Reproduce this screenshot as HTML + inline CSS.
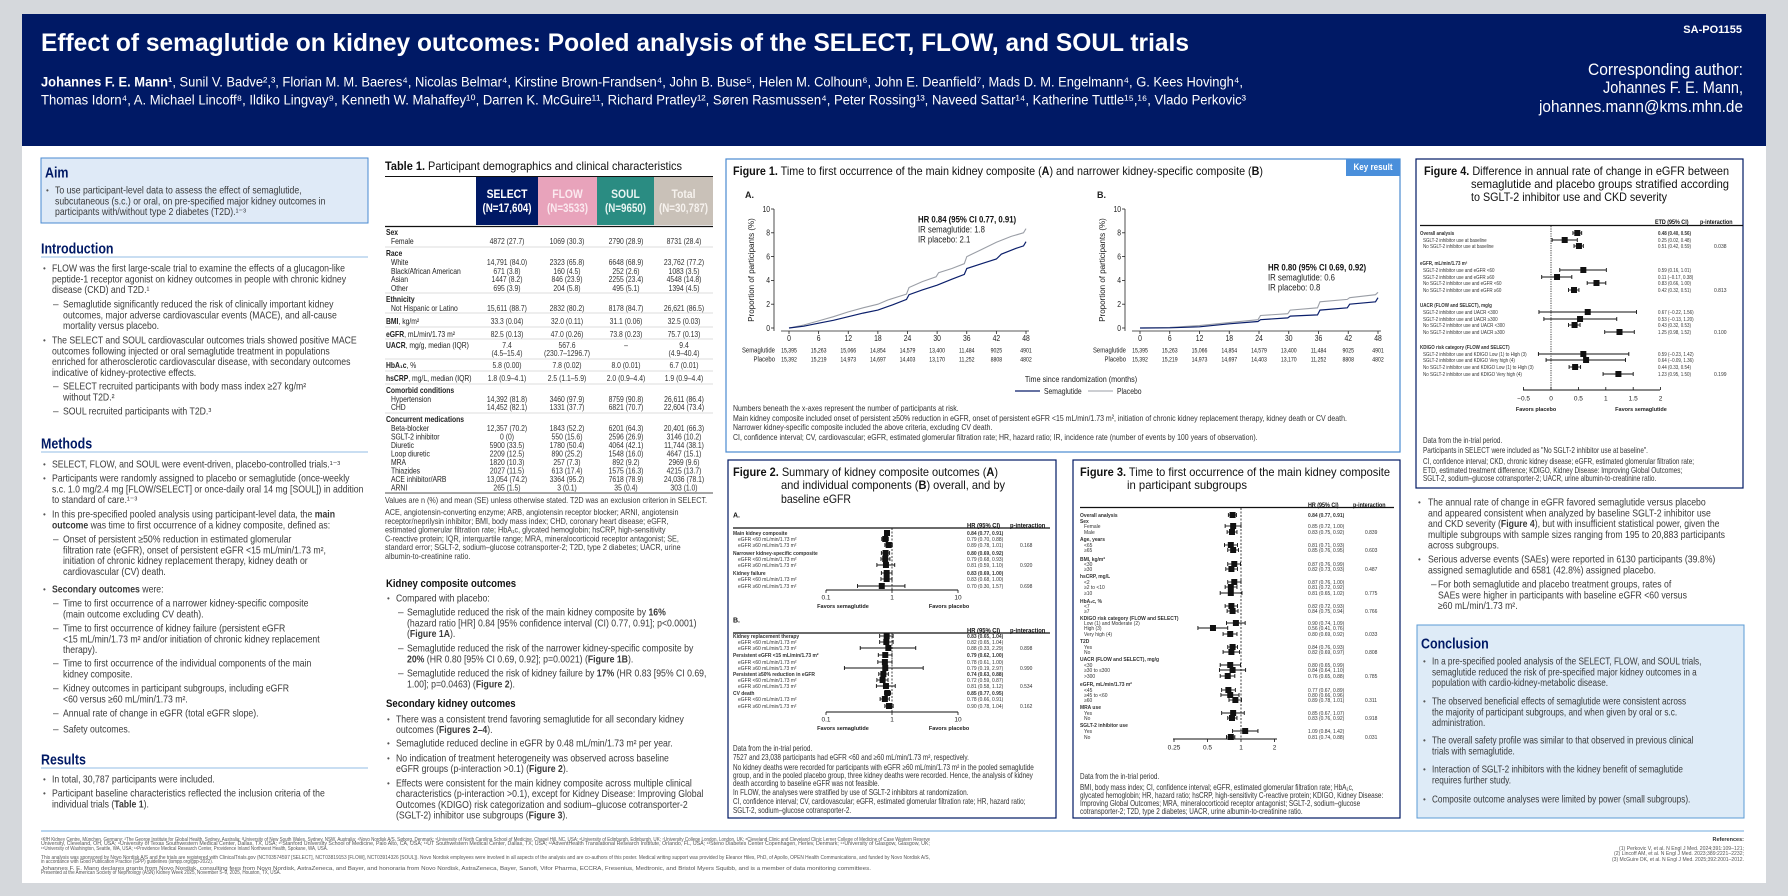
<!DOCTYPE html>
<html><head><meta charset="utf-8">
<style>
html,body{margin:0;padding:0;background:#d5d8dc;width:1788px;height:896px;overflow:hidden}
svg{display:block;font-family:"Liberation Sans",sans-serif}
</style></head>
<body><div id="c"></div>
<script>
const S=[];
function esc(s){return s.replace(/&/g,'&amp;').replace(/</g,'&lt;').replace(/>/g,'&gt;');}
function md(s){return esc(s).replace(/\*\*(.+?)\*\*/g,'<tspan font-weight="bold">$1</tspan>');}
function T(x,y,s,o){o=o||{};const sz=o.size||10,sx=o.sx||1;const by=(y+sz*0.35).toFixed(1);
 let extra=o.w?` textLength="${o.w}" lengthAdjust="spacingAndGlyphs"`:'';
 let tr=o.w?`x="${x}" y="${by}"`:`transform="translate(${x},${by}) scale(${sx},1)"`;
 S.push(`<text ${tr}${extra} font-size="${sz}"${o.b?' font-weight="bold"':''} fill="${o.fill||'#333'}" text-anchor="${o.a||'start'}">${md(s)}</text>`);}
function R(x,y,w,h,f,st,sw){S.push(`<rect x="${x}" y="${y}" width="${w}" height="${h}" fill="${f||'none'}"${st?` stroke="${st}" stroke-width="${sw||1}"`:''}/>`);}
function L(x1,y1,x2,y2,st,sw,da){S.push(`<line x1="${x1}" y1="${y1}" x2="${x2}" y2="${y2}" stroke="${st||'#000'}" stroke-width="${sw||1}"${da?` stroke-dasharray="${da}"`:''}/>`);}
const NAVY='#001965';
R(22,146,1744,737,'#fff');
R(22,14,1744,132,NAVY);
T(41,42,'Effect of semaglutide on kidney outcomes: Pooled analysis of the SELECT, FLOW, and SOUL trials',{size:25,b:1,fill:'#fff',w:1148});
T(41,82,'**Johannes F. E. Mann¹**, Sunil V. Badve²,³, Florian M. M. Baeres⁴, Nicolas Belmar⁴, Kirstine Brown-Frandsen⁴, John B. Buse⁵, Helen M. Colhoun⁶, John E. Deanfield⁷, Mads D. M. Engelmann⁴, G. Kees Hovingh⁴,',{size:13.5,fill:'#fff',w:1202});
T(41,100,'Thomas Idorn⁴, A. Michael Lincoff⁸, Ildiko Lingvay⁹, Kenneth W. Mahaffey¹⁰, Darren K. McGuire¹¹, Richard Pratley¹², Søren Rasmussen⁴, Peter Rossing¹³, Naveed Sattar¹⁴, Katherine Tuttle¹⁵,¹⁶, Vlado Perkovic³',{size:13.5,fill:'#fff',w:1205});
T(1742,29,'SA-PO1155',{size:11,b:1,fill:'#fff',a:'end'});
T(1743,69,'Corresponding author:',{size:17,fill:'#fff',a:'end',w:155});
T(1743,87,'Johannes F. E. Mann,',{size:17,fill:'#fff',a:'end',w:140});
T(1743,106,'johannes.mann@kms.mhn.de',{size:17,fill:'#fff',a:'end',w:204});

let BT={size:10,sx:.87,fill:'#3a3a3a'};
function list(items,bx,tx,dx,stx,lh){lh=lh||10.8;
 items.forEach(([t,y,lines])=>{
  if(t==='b')T(bx,y,'•',{size:8,fill:'#555'});else T(dx,y,'–',{size:10,fill:'#444'});
  lines.forEach((l,i)=>T(t==='b'?tx:stx,y+i*lh,l,BT));});}
function head(x,y,s,rule){T(x,y,s,{size:15,b:1,fill:NAVY,sx:.83});if(rule)L(41,y+9,368,y+9,'#a9c9ea',1.2);}

R(41,158,327,65,'#dfeaf7','#4a8ad0',1);
T(45,172,'Aim',{size:15,b:1,fill:NAVY,sx:.83});
list([['b',190,['To use participant-level data to assess the effect of semaglutide,','subcutaneous (s.c.) or oral, on pre-specified major kidney outcomes in','participants with/without type 2 diabetes (T2D).¹⁻³']]],46,55,0,0);
head(41,248,'Introduction',1);
list([
['b',268,['FLOW was the first large-scale trial to examine the effects of a glucagon-like','peptide-1 receptor agonist on kidney outcomes in people with chronic kidney','disease (CKD) and T2D.¹']],
['s',304,['Semaglutide significantly reduced the risk of clinically important kidney','outcomes, major adverse cardiovascular events (MACE), and all-cause','mortality versus placebo.']],
['b',340,['The SELECT and SOUL cardiovascular outcomes trials showed positive MACE','outcomes following injected or oral semaglutide treatment in populations','enriched for atherosclerotic cardiovascular disease, with secondary outcomes','indicative of kidney-protective effects.']],
['s',386,['SELECT recruited participants with body mass index ≥27 kg/m²','without T2D.²']],
['s',411,['SOUL recruited participants with T2D.³']]
],43,52,53,63);
head(41,443,'Methods',1);
list([
['b',464,['SELECT, FLOW, and SOUL were event-driven, placebo-controlled trials.¹⁻³']],
['b',478,['Participants were randomly assigned to placebo or semaglutide (once-weekly','s.c. 1.0 mg/2.4 mg [FLOW/SELECT] or once-daily oral 14 mg [SOUL]) in addition','to standard of care.¹⁻³']],
['b',514,['In this pre-specified pooled analysis using participant-level data, the **main**','**outcome** was time to first occurrence of a kidney composite, defined as:']],
['s',539,['Onset of persistent ≥50% reduction in estimated glomerular','filtration rate (eGFR), onset of persistent eGFR <15 mL/min/1.73 m²,','initiation of chronic kidney replacement therapy, kidney death or','cardiovascular (CV) death.']],
['b',589,['**Secondary outcomes** were:']],
['s',603,['Time to first occurrence of a narrower kidney-specific composite','(main outcome excluding CV death).']],
['s',628,['Time to first occurrence of kidney failure (persistent eGFR','<15 mL/min/1.73 m² and/or initiation of chronic kidney replacement','therapy).']],
['s',663,['Time to first occurrence of the individual components of the main','kidney composite.']],
['s',688,['Kidney outcomes in participant subgroups, including eGFR','<60 versus ≥60 mL/min/1.73 m².']],
['s',713,['Annual rate of change in eGFR (total eGFR slope).']],
['s',729,['Safety outcomes.']]
],43,52,53,63);
head(41,759,'Results',1);
list([
['b',779,['In total, 30,787 participants were included.']],
['b',793,['Participant baseline characteristics reflected the inclusion criteria of the','individual trials (**Table 1**).']]
],43,52,53,63);

L(41,831,1744,831,'#b7d4ee',2);
const FT={size:5,fill:'#555'};
T(41,839,'¹KfH Kidney Centre, München, Germany; ²The George Institute for Global Health, Sydney, Australia; ³University of New South Wales, Sydney, NSW, Australia; ⁴Novo Nordisk A/S, Søborg, Denmark; ⁵University of North Carolina School of Medicine, Chapel Hill, NC, USA; ⁶University of Edinburgh, Edinburgh, UK; ⁷University College London, London, UK; ⁸Cleveland Clinic and Cleveland Clinic Lerner College of Medicine of Case Western Reserve',Object.assign({w:889},FT));
T(41,843,'University, Cleveland, OH, USA; ⁹University of Texas Southwestern Medical Center, Dallas, TX, USA; ¹⁰Stanford University School of Medicine, Palo Alto, CA, USA; ¹¹UT Southwestern Medical Center, Dallas, TX, USA; ¹²AdventHealth Translational Research Institute, Orlando, FL, USA; ¹³Steno Diabetes Center Copenhagen, Herlev, Denmark; ¹⁴University of Glasgow, Glasgow, UK;',Object.assign({w:889},FT));
T(41,848,'¹⁵University of Washington, Seattle, WA, USA; ¹⁶Providence Medical Research Center, Providence Inland Northwest Health, Spokane, WA, USA.',Object.assign({w:287},FT));
T(41,857,'This analysis was sponsored by Novo Nordisk A/S and the trials are registered with ClinicalTrials.gov (NCT03574597 [SELECT], NCT03819153 [FLOW], NCT03914326 [SOUL]). Novo Nordisk employees were involved in all aspects of the analysis and are co-authors of this poster. Medical writing support was provided by Eleanor Hiles, PhD, of Apollo, OPEN Health Communications, and funded by Novo Nordisk A/S,',Object.assign({w:889},FT));
T(41,861,'in accordance with Good Publication Practice (GPP) guidelines (ismpp.org/gpp-2022).',Object.assign({w:172},FT));
T(41,868,'Johannes F. E. Mann declares grants from Novo Nordisk, consulting fees from Novo Nordisk, AstraZeneca, and Bayer, and honoraria from Novo Nordisk, AstraZeneca, Bayer, Sanofi, Vifor Pharma, ECCRA, Fresenius, Medtronic, and Bristol Myers Squibb, and is a member of data monitoring committees.',Object.assign({w:830},FT));
T(41,872,'Presented at the American Society of Nephrology (ASN) Kidney Week 2025, November 5–9, 2025, Houston, TX, USA.',Object.assign({w:240},FT));
T(1744,839,'References:',{size:5.5,b:1,fill:'#333',a:'end'});
T(1744,848,'(1) Perkovic V, et al. N Engl J Med. 2024;391:109–121;',Object.assign({w:125,a:'end'},FT));
T(1744,853,'(2) Lincoff AM, et al. N Engl J Med. 2023;389:2221–2232;',Object.assign({w:130,a:'end'},FT));
T(1744,859,'(3) McGuire DK, et al. N Engl J Med. 2025;392:2001–2012.',Object.assign({w:132,a:'end'},FT));

T(385,166,'**Table 1.** Participant demographics and clinical characteristics',{size:12,fill:'#111',w:297});
L(385,176.5,713,176.5,'#111',1);
[[476,NAVY,'SELECT','(N=17,604)','#fff'],[538,'#e8a3bb','FLOW','(N=3533)','#fbe9ef'],[597,'#2a8c82','SOUL','(N=9650)','#e8f4f2'],[654,'#c9c1b8','Total','(N=30,787)','#f6f2ee']].forEach(([x,c,a,b,tc],i)=>{
 const w=[62,59,57,59][i];R(x,177,w,48,c);
 T(x+w/2,194,a,{size:11.5,b:1,fill:tc,a:'middle',sx:.9});T(x+w/2,208,b,{size:11.5,b:1,fill:tc,a:'middle',sx:.85});});
L(385,226.5,713,226.5,'#111',1.2);
const TX=[507,567,626,684];const TS={size:8,fill:'#333',sx:.85};
function trow(y,label,vals,bold,indent){T(indent?391:386,y,label,{size:8,fill:'#222',b:bold,sx:.85});
 if(vals)vals.forEach((v,i)=>T(TX[i],y,v,Object.assign({a:'middle'},TS)));}
function tsep(y){L(385,y,713,y,'#bbb',.6);}
trow(232,'Sex',null,1);trow(241,'Female',['4872 (27.7)','1069 (30.3)','2790 (28.9)','8731 (28.4)'],0,1);tsep(247);
trow(253,'Race',null,1);
trow(262,'White',['14,791 (84.0)','2323 (65.8)','6648 (68.9)','23,762 (77.2)'],0,1);
trow(271,'Black/African American',['671 (3.8)','160 (4.5)','252 (2.6)','1083 (3.5)'],0,1);
trow(279,'Asian',['1447 (8.2)','846 (23.9)','2255 (23.4)','4548 (14.8)'],0,1);
trow(288,'Other',['695 (3.9)','204 (5.8)','495 (5.1)','1394 (4.5)'],0,1);tsep(293);
trow(299,'Ethnicity',null,1);trow(308,'Not Hispanic or Latino',['15,611 (88.7)','2832 (80.2)','8178 (84.7)','26,621 (86.5)'],0,1);tsep(313);
trow(321,'**BMI**, kg/m²',['33.3 (0.04)','32.0 (0.11)','31.1 (0.06)','32.5 (0.03)']);tsep(327);
trow(334,'**eGFR**, mL/min/1.73 m²',['82.5 (0.13)','47.0 (0.26)','73.8 (0.23)','75.7 (0.13)']);tsep(339);
trow(345,'**UACR**, mg/g, median (IQR)',['7.4','567.6','–','9.4']);trow(353,'',['(4.5–15.4)','(230.7–1296.7)','','(4.9–40.4)']);tsep(359);
trow(365,'**HbA₁c**, %',['5.8 (0.00)','7.8 (0.02)','8.0 (0.01)','6.7 (0.01)']);tsep(371);
trow(378,'**hsCRP**, mg/L, median (IQR)',['1.8 (0.9–4.1)','2.5 (1.1–5.9)','2.0 (0.9–4.4)','1.9 (0.9–4.4)']);tsep(384);
trow(390,'Comorbid conditions',null,1);
trow(399,'Hypertension',['14,392 (81.8)','3460 (97.9)','8759 (90.8)','26,611 (86.4)'],0,1);
trow(407,'CHD',['14,452 (82.1)','1331 (37.7)','6821 (70.7)','22,604 (73.4)'],0,1);tsep(413);
trow(419,'Concurrent medications',null,1);
[['Beta-blocker','12,357 (70.2)','1843 (52.2)','6201 (64.3)','20,401 (66.3)'],['SGLT-2 inhibitor','0 (0)','550 (15.6)','2596 (26.9)','3146 (10.2)'],['Diuretic','5900 (33.5)','1780 (50.4)','4064 (42.1)','11,744 (38.1)'],['Loop diuretic','2209 (12.5)','890 (25.2)','1548 (16.0)','4647 (15.1)'],['MRA','1820 (10.3)','257 (7.3)','892 (9.2)','2969 (9.6)'],['Thiazides','2027 (11.5)','613 (17.4)','1575 (16.3)','4215 (13.7)'],['ACE inhibitor/ARB','13,054 (74.2)','3364 (95.2)','7618 (78.9)','24,036 (78.1)'],['ARNI','265 (1.5)','3 (0.1)','35 (0.4)','303 (1.0)']].forEach((r,i)=>trow(428+i*8.55,r[0],r.slice(1),0,1));
L(385,493,713,493,'#111',.8);
const NT={size:8.5,fill:'#3a3a3a',sx:.85};
T(385,500,'Values are n (%) and mean (SE) unless otherwise stated. T2D was an exclusion criterion in SELECT.',NT);
['ACE, angiotensin-converting enzyme; ARB, angiotensin receptor blocker; ARNI, angiotensin','receptor/neprilysin inhibitor; BMI, body mass index; CHD, coronary heart disease; eGFR,','estimated glomerular filtration rate; HbA₁c, glycated hemoglobin; hsCRP, high-sensitivity','C-reactive protein; IQR, interquartile range; MRA, mineralocorticoid receptor antagonist; SE,','standard error; SGLT-2, sodium–glucose cotransporter-2; T2D, type 2 diabetes; UACR, urine','albumin-to-creatinine ratio.'].forEach((l,i)=>T(385,512+i*8.8,l,NT));
T(386,583,'Kidney composite outcomes',{size:11,b:1,fill:'#111',sx:.87});
list([
['b',598,['Compared with placebo:']],
['s',612,['Semaglutide reduced the risk of the main kidney composite by **16%**','(hazard ratio [HR] 0.84 [95% confidence interval (CI) 0.77, 0.91]; p<0.0001)','(**Figure 1A**).']],
['s',648,['Semaglutide reduced the risk of the narrower kidney-specific composite by','**20%** (HR 0.80 [95% CI 0.69, 0.92]; p=0.0021) (**Figure 1B**).']],
['s',673,['Semaglutide reduced the risk of kidney failure by **17%** (HR 0.83 [95% CI 0.69,','1.00]; p=0.0463) (**Figure 2**).']]
],387,396,398,407);
T(386,703,'Secondary kidney outcomes',{size:11,b:1,fill:'#111',sx:.87});
list([
['b',719,['There was a consistent trend favoring semaglutide for all secondary kidney','outcomes (**Figures 2–4**).']],
['b',743,['Semaglutide reduced decline in eGFR by 0.48 mL/min/1.73 m² per year.']],
['b',758,['No indication of treatment heterogeneity was observed across baseline','eGFR groups (p-interaction >0.1) (**Figure 2**).']],
['b',783,['Effects were consistent for the main kidney composite across multiple clinical','characteristics (p-interaction >0.1), except for Kidney Disease: Improving Global','Outcomes (KDIGO) risk categorization and sodium–glucose cotransporter-2','(SGLT-2) inhibitor use subgroups (**Figure 3**).']]
],387,396,398,407,10.7);

R(726,159,674,293,'#fff','#4a8ad0',1.2);
R(1346,159,54,17,'#4a8fdb');T(1373,167,'Key result',{size:9,b:1,fill:'#fff',a:'middle',sx:.9});
T(733,171,'**Figure 1.** Time to first occurrence of the main kidney composite (**A**) and narrower kidney-specific composite (**B**)',{size:12,fill:'#111',w:530});
function km(lbl,lx,ax,x0,x48,pl,se,hx,hy,hr,i1,i2){
 const y0=328,y10=209,X=m=>x0+(x48-x0)*m/48,Y=v=>y0-(y0-y10)*v/10;
 T(lx,195,lbl,{size:9,b:1,fill:'#222'});
 L(ax,y10,ax,331,'#222',.8);L(ax+7,331,x48+3,331,'#222',.8);
 for(let v=0;v<=10;v+=2){L(ax-3,Y(v),ax,Y(v),'#222',.8);T(ax-4,Y(v),String(v),{size:8,a:'end',fill:'#222',sx:.85});}
 for(let m=0;m<=48;m+=6){L(X(m),331,X(m),334,'#222',.8);T(X(m),338,String(m),{size:8,a:'middle',fill:'#222',sx:.85});}
 S.push(`<text transform="translate(${ax-20},270) rotate(-90)" font-size="8" fill="#222" text-anchor="middle">Proportion of participants (%)</text>`);
 const path=(pts)=>pts.map((p,i)=>(i?'L':'M')+X(p[0]).toFixed(1)+','+Y(p[1]).toFixed(1)).join('');
 S.push(`<path d="${path(pl)}" fill="none" stroke="#9a9ea6" stroke-width="1.1"/>`);
 S.push(`<path d="${path(se)}" fill="none" stroke="#0b1f6b" stroke-width="1.2"/>`);
 T(hx,hy,hr,{size:9.5,b:1,fill:'#111',sx:.82});T(hx,hy+10,i1,{size:9.5,fill:'#222',sx:.82});T(hx,hy+20,i2,{size:9.5,fill:'#222',sx:.82});
 const sm=['15,395','15,263','15,066','14,854','14,579','13,400','11,484','9025','4901'],pb=['15,392','15,219','14,973','14,697','14,403','13,170','11,252','8808','4802'];
 T(ax+1,350,'Semaglutide',{size:7,a:'end',fill:'#222',sx:.85});T(ax+1,359,'Placebo',{size:7,a:'end',fill:'#222',sx:.85});
 for(let i=0;i<9;i++){T(X(i*6),350,sm[i],{size:6.5,a:'middle',fill:'#222',sx:.8});T(X(i*6),359,pb[i],{size:6.5,a:'middle',fill:'#222',sx:.8});}
}
km('A.',745,774,789,1026,
 [[0,0],[3,.25],[6,.6],[9,.95],[12,1.35],[15,1.7],[18,2.0],[20,2.35],[23.8,2.85],[24.3,3.4],[27,3.9],[29.8,4.3],[30.3,4.65],[33,5.0],[35.5,5.4],[36,6.0],[39,6.6],[42,7.2],[45,7.7],[47.5,8.0],[48,8.35]],
 [[0,0],[3,.15],[6,.4],[9,.65],[12,.95],[15,1.25],[18,1.5],[21,1.95],[23.8,2.4],[24.3,2.8],[27,3.2],[30,3.6],[33,4.1],[35.5,4.5],[36,5.0],[39,5.4],[42,5.8],[43,6.2],[46,6.7],[47.5,6.9],[48,7.25]],
 918,219,'HR 0.84 (95% CI 0.77, 0.91)','IR semaglutide: 1.8','IR placebo: 2.1');
km('B.',1097,1125,1140,1378,
 [[0,0],[6,.05],[12,.2],[18,.45],[23.8,.7],[24.3,1.05],[29.8,1.2],[30.3,1.5],[35.8,1.7],[36.3,2.2],[41.8,2.4],[42.3,2.55],[47.5,2.8],[48,3.0]],
 [[0,0],[6,.02],[12,.1],[18,.35],[23.8,.55],[24.3,.7],[29.8,.85],[30.3,1.0],[35.8,1.1],[36.3,1.5],[41.8,1.7],[42.3,2.0],[47.5,2.2],[48,2.55]],
 1268,267,'HR 0.80 (95% CI 0.69, 0.92)','IR semaglutide: 0.6','IR placebo: 0.8');
T(1081,379,'Time since randomization (months)',{size:8.5,a:'middle',fill:'#222',sx:.85});
L(1015,391,1040,391,'#0b1f6b',1.3);T(1044,391,'Semaglutide',{size:8,fill:'#222',sx:.85});
L(1088,391,1113,391,'#9a9ea6',1.1);T(1117,391,'Placebo',{size:8,fill:'#222',sx:.85});
const FN={size:8.5,fill:'#333',sx:.82};
['Numbers beneath the x-axes represent the number of participants at risk.','Main kidney composite included onset of persistent ≥50% reduction in eGFR, onset of persistent eGFR <15 mL/min/1.73 m², initiation of chronic kidney replacement therapy, kidney death or CV death.','Narrower kidney-specific composite included the above criteria, excluding CV death.','CI, confidence interval; CV, cardiovascular; eGFR, estimated glomerular filtration rate; HR, hazard ratio; IR, incidence rate (number of events by 100 years of observation).'].forEach((l,i)=>T(733,[408,418,427,437][i],l,FN));

function fpt(xf,y,est,lo,hi,sq){const a=xf(lo),b=xf(hi),c=xf(est);L(a,y,b,y,'#111',.9);L(a,y-2,a,y+2,'#111',.9);L(b,y-2,b,y+2,'#111',.9);R(c-sq/2,y-sq/2,sq,sq,'#111');}
const SM={size:5.5,fill:'#333',sx:.9};

R(728,460,328,358,'#fff',NAVY,1.2);
T(733,472,'**Figure 2.** Summary of kidney composite outcomes (**A**)',{size:12,fill:'#111',w:265});
T(781,485,'and individual components (**B**) overall, and by',{size:12,fill:'#111',w:224});
T(781,499,'baseline eGFR',{size:12,fill:'#111',w:70});
const x2=v=>892+Math.log10(v)*66;
function f2(lbl,hy,rows,ay){
 T(733,hy-10,lbl,{size:7,b:1,fill:'#111'});
 T(967,hy,'HR (95% CI)',{size:6.5,b:1,fill:'#111',sx:.9});T(1010,hy,'p-interaction',{size:6.5,b:1,fill:'#111',sx:.9});
 L(733,hy+3,1050,hy+3,'#111',1.2);L(892,hy+3,892,ay,'#111',.8,'2,1.5');
 rows.forEach(([y,l,e,lo,hi,p])=>{const b=l[0]!==' ';T(b?733:738,y,l.trim(),{size:5.5,b:b,fill:'#333',sx:.9});
  fpt(x2,y,e,lo,hi,6);T(967,y,`${e.toFixed(2)} (${lo.toFixed(2)}, ${hi.toFixed(2)})`,{size:5.5,b:b,fill:'#333',sx:.9});if(p)T(1020,y,p,SM);});
 L(826,ay,958,ay,'#111',1);[[.1,'0.1'],[1,'1'],[10,'10']].forEach(([v,t])=>{L(x2(v),ay,x2(v),ay+3,'#111',.8);T(x2(v),ay+7,t,{size:6.5,a:'middle',fill:'#222'});});
 T(843,ay+16,'Favors semaglutide',{size:5.5,b:1,fill:'#222',a:'middle'});T(949,ay+16,'Favors placebo',{size:5.5,b:1,fill:'#222',a:'middle'});
}
f2('A.',525,[[533,'Main kidney composite',.84,.77,.91],[539,' eGFR <60 mL/min/1.73 m²',.79,.70,.88],[545,' eGFR ≥60 mL/min/1.73 m²',.89,.78,1.01,'0.168'],
 [553,'Narrower kidney-specific composite',.80,.69,.92],[559,' eGFR <60 mL/min/1.73 m²',.79,.68,.93],[565,' eGFR ≥60 mL/min/1.73 m²',.81,.59,1.10,'0.920'],
 [573,'Kidney failure',.83,.69,1.00],[579,' eGFR <60 mL/min/1.73 m²',.83,.68,1.00],[586,' eGFR ≥60 mL/min/1.73 m²',.70,.30,1.57,'0.698']],590);
f2('B.',630,[[636,'Kidney replacement therapy',.83,.65,1.04],[642,' eGFR <60 mL/min/1.73 m²',.82,.65,1.04],[648,' eGFR ≥60 mL/min/1.73 m²',.88,.33,2.29,'0.898'],
 [655,'Persistent eGFR <15 mL/min/1.73 m²',.79,.62,1.00],[662,' eGFR <60 mL/min/1.73 m²',.78,.61,1.00],[668,' eGFR ≥60 mL/min/1.73 m²',.79,.19,2.97,'0.990'],
 [674,'Persistent ≥50% reduction in eGFR',.74,.63,.88],[680,' eGFR <60 mL/min/1.73 m²',.72,.59,.87],[686,' eGFR ≥60 mL/min/1.73 m²',.81,.58,1.12,'0.534'],
 [693,'CV death',.85,.77,.95],[699,' eGFR <60 mL/min/1.73 m²',.78,.66,.91],[706,' eGFR ≥60 mL/min/1.73 m²',.90,.78,1.04,'0.162']],712);
const FN2={size:8,fill:'#333',sx:.8};
['Data from the in-trial period.','7527 and 23,038 participants had eGFR <60 and ≥60 mL/min/1.73 m², respectively.','No kidney deaths were recorded for participants with eGFR ≥60 mL/min/1.73 m² in the pooled semaglutide','group, and in the pooled placebo group, three kidney deaths were recorded. Hence, the analysis of kidney','death according to baseline eGFR was not feasible.','In FLOW, the analyses were stratified by use of SGLT-2 inhibitors at randomization.','CI, confidence interval; CV, cardiovascular; eGFR, estimated glomerular filtration rate; HR, hazard ratio;','SGLT-2, sodium–glucose cotransporter-2.'].forEach((l,i)=>T(733,[748,757,767,775,783,792,801,810][i],l,FN2));

R(1073,460,327,358,'#fff',NAVY,1.2);
T(1080,472,'**Figure 3.** Time to first occurrence of the main kidney composite',{size:12,fill:'#111',w:310});
T(1127,485,'in participant subgroups',{size:12,fill:'#111',w:120});
const x3=v=>1241+Math.log2(v)*33.5;
T(1308,505,'HR (95% CI)',{size:6,b:1,fill:'#111',sx:.9});T(1353,505,'p-interaction',{size:6,b:1,fill:'#111',sx:.9});
L(1080,507.5,1394,507.5,'#111',1.2);L(1241,508,1241,739,'#111',.8,'2,1.5');
const r3=[['Overall analysis',.84,.77,.91],['Sex'],[' Female',.85,.72,1.00],[' Male',.83,.75,.92,'0.839'],['Age, years'],[' <65',.81,.71,.93],[' ≥65',.85,.76,.95,'0.603'],
['BMI, kg/m²'],[' <30',.87,.76,.99],[' ≥30',.82,.73,.93,'0.487'],['hsCRP, mg/L'],[' <2',.87,.76,1.00],[' ≥2 to <10',.81,.72,.92],[' ≥10',.81,.65,1.02,'0.775'],
['HbA₁c, %'],[' <7',.82,.72,.93],[' ≥7',.84,.75,.94,'0.766'],['KDIGO risk category (FLOW and SELECT)'],[' Low (1) and Moderate (2)',.90,.74,1.09],[' High (3)',.56,.41,.76],[' Very high (4)',.80,.69,.92,'0.033'],
['T2D'],[' Yes',.84,.76,.93],[' No',.82,.69,.97,'0.808'],['UACR (FLOW and SELECT), mg/g'],[' <30',.80,.65,.99],[' ≥30 to ≤300',.84,.64,1.10],[' >300',.76,.65,.88,'0.785'],
['eGFR, mL/min/1.73 m²'],[' <45',.77,.67,.89],[' ≥45 to <60',.80,.66,.96],[' ≥60',.89,.78,1.01,'0.311'],['MRA use'],[' Yes',.85,.67,1.07],[' No',.83,.76,.92,'0.918'],
['SGLT-2 inhibitor use'],[' Yes',1.09,.84,1.42],[' No',.81,.74,.88,'0.031']];
const y3=[515,521,526,532,539,545,550,559,564,569,576,582,587,593,601,606,611,618,623,628,634,641,647,652,659,665,670,676,684,690,695,700,707,713,718,725,731,737];
r3.forEach((r,i)=>{const y=y3[i],b=r[0][0]!==' ';T(b?1080:1084,y,r[0].trim(),{size:5.5,b:b,fill:'#333',sx:.9});
 if(r.length>1){fpt(x3,y,r[1],r[2],r[3],6);T(1308,y,`${r[1].toFixed(2)} (${r[2].toFixed(2)}, ${r[3].toFixed(2)})`,{size:5.5,b:i===0,fill:'#333',sx:.9});if(r[4])T(1365,y,r[4],SM);}});
L(1173,739,1277,739,'#111',1);[[.25,'0.25'],[.5,'0.5'],[1,'1'],[2,'2']].forEach(([v,t])=>{L(x3(v),739,x3(v),742,'#111',.8);T(x3(v),747,t,{size:6.5,a:'middle',fill:'#222'});});
['Data from the in-trial period.','BMI, body mass index; CI, confidence interval; eGFR, estimated glomerular filtration rate; HbA₁c,','glycated hemoglobin; HR, hazard ratio; hsCRP, high-sensitivity C-reactive protein; KDIGO, Kidney Disease:','Improving Global Outcomes; MRA, mineralocorticoid receptor antagonist; SGLT-2, sodium–glucose','cotransporter-2; T2D, type 2 diabetes; UACR, urine albumin-to-creatinine ratio.'].forEach((l,i)=>T(1080,[776,787,795,803,811][i],l,FN2));

R(1416,159,327,329,'#fff',NAVY,1.2);
T(1424,171,'**Figure 4.** Difference in annual rate of change in eGFR between',{size:12,fill:'#111',w:305});
T(1471,184,'semaglutide and placebo groups stratified according',{size:12,fill:'#111',w:258});
T(1471,197,'to SGLT-2 inhibitor use and CKD severity',{size:12,fill:'#111',w:196});
const x4=v=>1551+v*54.8;
T(1655,222,'ETD (95% CI)',{size:6,b:1,fill:'#111',sx:.9});T(1700,222,'p-interaction',{size:6,b:1,fill:'#111',sx:.9});
L(1420,225.5,1743,225.5,'#111',1.2);L(1551,226,1551,390,'#111',.8,'1.2,1.2');
const r4=[[233,'Overall analysis',.48,.40,.56],[240,' SGLT-2 inhibitor use at baseline',.25,.02,.48],[246,' No SGLT-2 inhibitor use at baseline',.51,.42,.59,'0.038'],
[263,'eGFR, mL/min/1.73 m²'],[270,' SGLT-2 inhibitor use and eGFR <60',.59,.16,1.01],[277,' SGLT-2 inhibitor use and eGFR ≥60',.11,-.17,.38],[283,' No SGLT-2 inhibitor use and eGFR <60',.83,.66,1.00],[290,' No SGLT-2 inhibitor use and eGFR ≥60',.42,.32,.51,'0.813'],
[305,'UACR (FLOW and SELECT), mg/g'],[312,' SGLT-2 inhibitor use and UACR <300',.67,-.22,1.56],[319,' SGLT-2 inhibitor use and UACR ≥300',.53,-.13,1.20],[325,' No SGLT-2 inhibitor use and UACR <300',.43,.32,.53],[332,' No SGLT-2 inhibitor use and UACR ≥300',1.25,.98,1.52,'0.100'],
[347,'KDIGO risk category (FLOW and SELECT)'],[354,' SGLT-2 inhibitor use and KDIGO Low (1) to High (3)',.59,-.23,1.42],[360,' SGLT-2 inhibitor use and KDIGO Very high (4)',.64,-.09,1.36],[367,' No SGLT-2 inhibitor use and KDIGO Low (1) to High (3)',.44,.33,.54],[374,' No SGLT-2 inhibitor use and KDIGO Very high (4)',1.23,.95,1.50,'0.199']];
const fm=v=>(v<0?'−':'')+Math.abs(v).toFixed(2);
r4.forEach(r=>{const y=r[0],b=r[1][0]!==' ';T(b?1420:1423,y,r[1].trim(),{size:5,b:b,fill:'#333',sx:.9});
 if(r.length>2){fpt(x4,y,r[2],r[3],r[4],6);T(1658,y,`${r[2].toFixed(2)} (${fm(r[3])}, ${fm(r[4])})`,{size:5,b:y===233,fill:'#333',sx:.9});if(r[5])T(1714,y,r[5],{size:5,fill:'#333'});}});
L(1523,390,1660,390,'#111',1);[-.5,0,.5,1,1.5,2].forEach(v=>{L(x4(v),390,x4(v),387,'#111',.8);T(x4(v),398,v<0?'−0.5':String(v),{size:6.5,a:'middle',fill:'#222'});});
T(1536,409,'Favors placebo',{size:5.5,b:1,fill:'#222',a:'middle'});T(1641,409,'Favors semaglutide',{size:5.5,b:1,fill:'#222',a:'middle'});
['Data from the in-trial period.','Participants in SELECT were included as "No SGLT-2 inhibitor use at baseline".','CI, confidence interval; CKD, chronic kidney disease; eGFR, estimated glomerular filtration rate;','ETD, estimated treatment difference; KDIGO, Kidney Disease: Improving Global Outcomes;','SGLT-2, sodium–glucose cotransporter-2; UACR, urine albumin-to-creatinine ratio.'].forEach((l,i)=>T(1423,[440,450,461,470,478][i],l,FN2));
list([
['b',502,['The annual rate of change in eGFR favored semaglutide versus placebo','and appeared consistent when analyzed by baseline SGLT-2 inhibitor use','and CKD severity (**Figure 4**), but with insufficient statistical power, given the','multiple subgroups with sample sizes ranging from 195 to 20,883 participants','across subgroups.']],
['b',559,['Serious adverse events (SAEs) were reported in 6130 participants (39.8%)','assigned semaglutide and 6581 (42.8%) assigned placebo.']],
['s',584,['For both semaglutide and placebo treatment groups, rates of','SAEs were higher in participants with baseline eGFR <60 versus','≥60 mL/min/1.73 m².']]
],1418,1428,1431,1438);
R(1417,625,327,193,'#deebf7','#5b9bd5',1);
T(1421,643,'Conclusion',{size:15,b:1,fill:NAVY,sx:.83});
BT={size:10,sx:.82,fill:'#3a3a3a'};
list([
['b',661,['In a pre-specified pooled analysis of the SELECT, FLOW, and SOUL trials,','semaglutide reduced the risk of pre-specified major kidney outcomes in a','population with cardio-kidney-metabolic disease.']],
['b',701,['The observed beneficial effects of semaglutide were consistent across','the majority of participant subgroups, and when given by oral or s.c.','administration.']],
['b',740,['The overall safety profile was similar to that observed in previous clinical','trials with semaglutide.']],
['b',769,['Interaction of SGLT-2 inhibitors with the kidney benefit of semaglutide','requires further study.']],
['b',799,['Composite outcome analyses were limited by power (small subgroups).']]
],1423,1432,0,0);

document.getElementById('c').innerHTML='<svg width="1788" height="896" xmlns="http://www.w3.org/2000/svg">'+S.join('')+'</svg>';
</script>
</body></html>
